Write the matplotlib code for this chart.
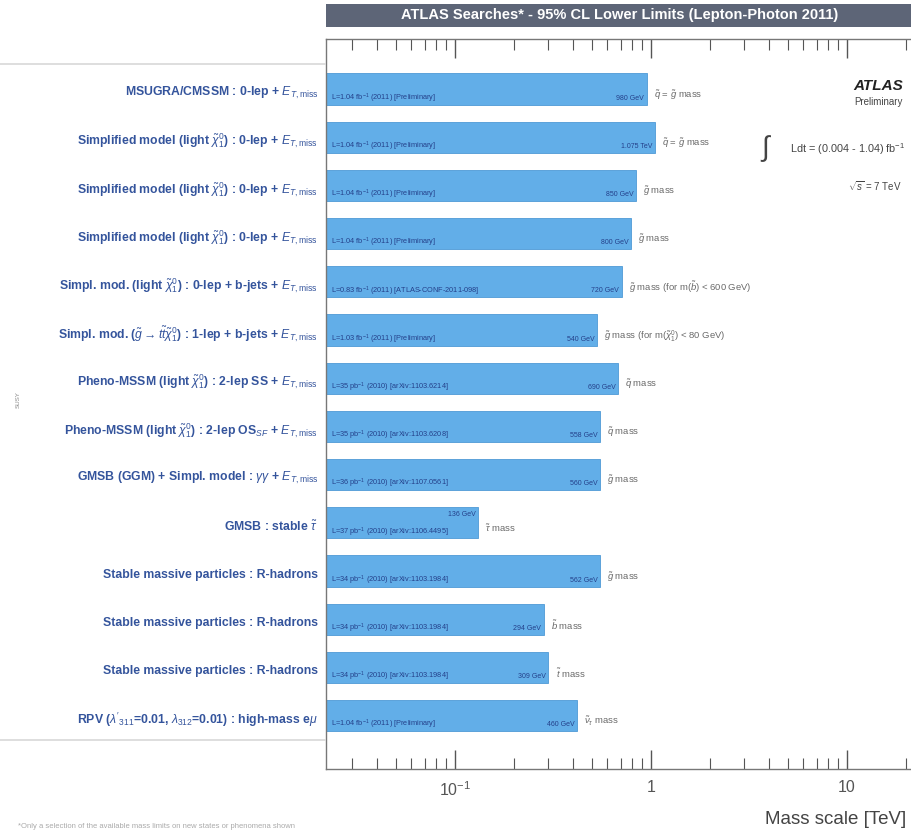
import numpy as np
import matplotlib
matplotlib.use('Agg')
import matplotlib.pyplot as plt
import matplotlib.transforms as mtransforms
from matplotlib.patches import Rectangle
from matplotlib.lines import Line2D

plt.rcParams['font.family'] = ['Liberation Sans', 'DejaVu Sans']
plt.rcParams['mathtext.fontset'] = 'custom'
plt.rcParams['mathtext.rm'] = 'Liberation Sans'
plt.rcParams['mathtext.it'] = 'Liberation Sans:italic'
plt.rcParams['mathtext.bf'] = 'Liberation Sans:bold'

MET = r'$E_{T,\mathrm{miss}}$'
CHI = r'$\tilde{\chi}^0_1$'

# analyses, top to bottom
searches = [
    'MSUGRA/CMSSM : 0-lep + ' + MET,
    'Simplified model (light ' + CHI + ') : 0-lep + ' + MET,
    'Simplified model (light ' + CHI + ') : 0-lep + ' + MET,
    'Simplified model (light ' + CHI + ') : 0-lep + ' + MET,
    'Simpl. mod. (light ' + CHI + ') : 0-lep + b-jets + ' + MET,
    r'Simpl. mod. ($\tilde{g}\rightarrow t\tilde{t}\tilde{\chi}^0_1$) : 1-lep + b-jets + ' + MET,
    'Pheno-MSSM (light ' + CHI + ') : 2-lep SS + ' + MET,
    'Pheno-MSSM (light ' + CHI + r') : 2-lep OS$_{SF}$ + ' + MET,
    r'GMSB (GGM) + Simpl. model : $\gamma\gamma$ + ' + MET,
    r'GMSB : stable $\tilde{\tau}$',
    'Stable massive particles : R-hadrons',
    'Stable massive particles : R-hadrons',
    'Stable massive particles : R-hadrons',
    r"RPV ($\lambda'_{311}$=0.01, $\lambda_{312}$=0.01) : high-mass e$\mu$",
]

# lower limits [TeV]
limits = [0.95, 1.05, 0.84, 0.79, 0.71, 0.53, 0.68, 0.55, 0.55, 0.131, 0.55, 0.284, 0.30, 0.42]
limit_text = ['980 GeV', '1.075 TeV', '850 GeV', '800 GeV', '720 GeV', '540 GeV', '690 GeV',
              '558 GeV', '560 GeV', '136 GeV', '562 GeV', '294 GeV', '309 GeV', '460 GeV']

refs = [
    r'L=1.04 fb$^{-1}$ (2011) [Preliminary]',
    r'L=1.04 fb$^{-1}$ (2011) [Preliminary]',
    r'L=1.04 fb$^{-1}$ (2011) [Preliminary]',
    r'L=1.04 fb$^{-1}$ (2011) [Preliminary]',
    r'L=0.83 fb$^{-1}$ (2011) [ATLAS-CONF-2011-098]',
    r'L=1.03 fb$^{-1}$ (2011) [Preliminary]',
    r'L=35 pb$^{-1}$ (2010) [arXiv:1103.6214]',
    r'L=35 pb$^{-1}$ (2010) [arXiv:1103.6208]',
    r'L=36 pb$^{-1}$ (2010) [arXiv:1107.0561]',
    r'L=37 pb$^{-1}$ (2010) [arXiv:1106.4495]',
    r'L=34 pb$^{-1}$ (2010) [arXiv:1103.1984]',
    r'L=34 pb$^{-1}$ (2010) [arXiv:1103.1984]',
    r'L=34 pb$^{-1}$ (2010) [arXiv:1103.1984]',
    r'L=1.04 fb$^{-1}$ (2011) [Preliminary]',
]

what = [
    r'$\tilde{q}$ = $\tilde{g}$ mass',
    r'$\tilde{q}$ = $\tilde{g}$ mass',
    r'$\tilde{g}$ mass',
    r'$\tilde{g}$ mass',
    r'$\tilde{g}$ mass (for m($\tilde{b}$) < 600 GeV)',
    r'$\tilde{g}$ mass (for m($\tilde{\chi}^0_1$) < 80 GeV)',
    r'$\tilde{q}$ mass',
    r'$\tilde{q}$ mass',
    r'$\tilde{g}$ mass',
    r'$\tilde{\tau}$ mass',
    r'$\tilde{g}$ mass',
    r'$\tilde{b}$ mass',
    r'$\tilde{t}$ mass',
    r'$\tilde{\nu}_{\tau}$ mass',
]

W, H = 911, 831
fig = plt.figure(figsize=(W / 100, H / 100), dpi=100)
ax = fig.add_axes([326 / W, 1 - 769 / H, 590 / W, (769 - 39) / H])

bar_col = '#62aee8'
lab_col = '#34549c'
ypos = np.arange(len(searches))
ax.barh(ypos, limits, left=0.0001, height=0.65, color=bar_col, edgecolor='#4f9ad6', linewidth=0.6)

ax.set_xscale('log')
ax.set_xlim(0.022, 22.5)
ax.set_ylim(len(searches) - 1 + 1.108, -1.037)

lab_tr = mtransforms.blended_transform_factory(fig.transFigure, ax.transData)
for i in range(len(searches)):
    ax.text(0.0232, ypos[i] + 0.19, refs[i], fontsize=5.3, color='#24408a', va='center', ha='left')
    if i == 9:
        ax.text(limits[i] * 0.97, ypos[i] - 0.17, limit_text[i], fontsize=5.0, color='#24408a',
                va='center', ha='right')
    else:
        ax.text(limits[i] * 0.97, ypos[i] + 0.19, limit_text[i], fontsize=5.0, color='#24408a',
                va='center', ha='right')
    ax.text(limits[i] * 1.09, ypos[i] + 0.12, what[i], fontsize=6.8, color='#6a6a6a',
            va='center', ha='left')
    fig.text(318 / W, ypos[i] + 0.08, searches[i], transform=lab_tr, fontsize=8.8,
             color=lab_col, ha='right', va='center', fontweight='bold')

ax.set_yticks([])
ax.set_xticks([0.1, 1, 10])
ax.set_xticklabels([r'$10^{-1}$', '1', '10'])
ax.tick_params(axis='x', which='major', direction='in', length=14, width=1.0, top=True,
               labelsize=11.5, colors='#555555', pad=8)
ax.tick_params(axis='x', which='minor', direction='in', length=8, width=0.8, top=True,
               colors='#555555')
for s in ax.spines.values():
    s.set_color('#777777')
    s.set_linewidth(1.0)

# title banner
fig.patches.append(Rectangle((326 / W, 1 - 27 / H), 1 - 326 / W + 0.01, 23 / H,
                             transform=fig.transFigure, facecolor='#5d6577', edgecolor='none'))
fig.text(620 / W, 1 - 15.5 / H, 'ATLAS Searches* - 95% CL Lower Limits (Lepton-Photon 2011)',
         color='white', fontsize=10.5, fontweight='bold', ha='center', va='center')

# separator lines and section label
fig.add_artist(Line2D([0, 325 / W], [1 - 64 / H, 1 - 64 / H], color='#d8d8d8', lw=1.2))
fig.add_artist(Line2D([0, 325 / W], [1 - 740 / H, 1 - 740 / H], color='#d8d8d8', lw=1.2))
fig.text(18 / W, 1 - 400 / H, 'SUSY', rotation=90, fontsize=4.5, color='#888888',
         ha='center', va='center')

# ATLAS labels
fig.text(903 / W, 1 - 86 / H, 'ATLAS', fontsize=11, fontweight='bold', style='italic',
         color='#222222', ha='right', va='center')
fig.text(903 / W, 1 - 102 / H, 'Preliminary', fontsize=7, color='#444444', ha='right', va='center')
fig.text(760 / W, 1 - 149 / H, r'$\int$', fontsize=20, color='#444444', ha='left', va='center')
fig.text(905 / W, 1 - 149 / H, r'Ldt = (0.004 - 1.04) fb$^{-1}$', fontsize=7.8,
         color='#444444', ha='right', va='center')
fig.text(902 / W, 1 - 186 / H, r'$\sqrt{s}$ = 7 TeV', fontsize=7, color='#444444',
         ha='right', va='center')

fig.text(765 / W, 1 - 820 / H, 'Mass scale [TeV]', fontsize=13.5, color='#444444',
         ha='left', va='center')
fig.text(18 / W, 1 - 827 / H,
         '*Only a selection of the available mass limits on new states or phenomena shown',
         fontsize=5.5, color='#aaaaaa', ha='left', va='center')

fig.savefig('out.png', dpi=100)
